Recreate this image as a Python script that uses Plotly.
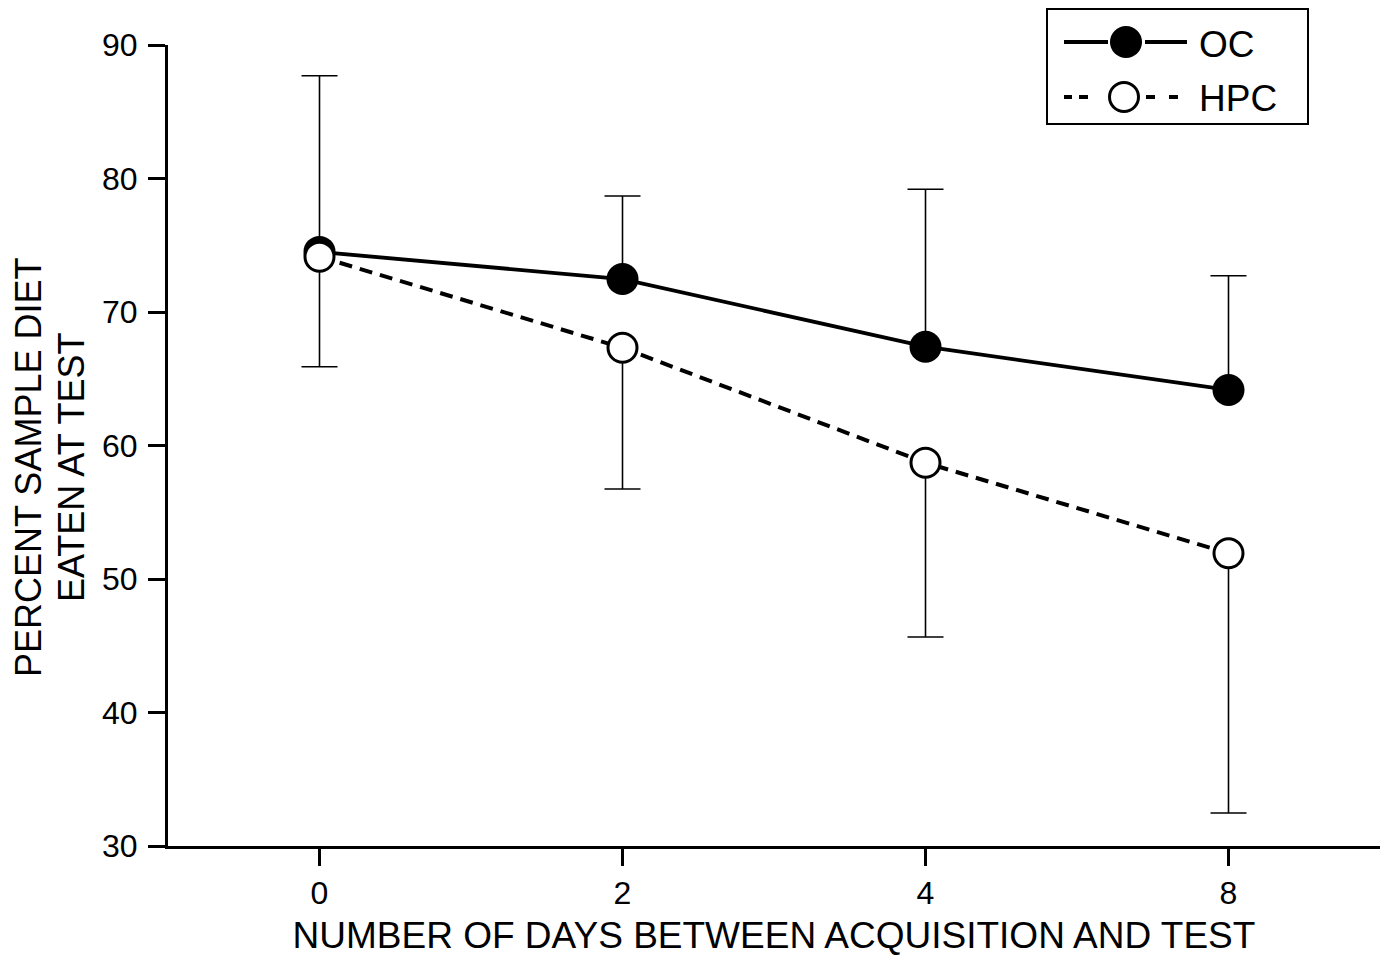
import plotly.graph_objects as go

# ---- data ----
days = ["0", "2", "4", "8"]
oc_mean = [74.5, 72.47, 67.4, 64.16]
oc_err_up = [13.2, 6.22, 11.79, 8.56]
hpc_mean = [74.14, 67.32, 58.71, 51.93]
hpc_err_down = [8.24, 10.58, 13.05, 19.46]

W, H = 1385, 964
L, R, T, B = 168, 5, 45, 118
PW, PH = W - L - R, H - T - B
FONT = "Liberation Sans, Arial, Helvetica, sans-serif"
CAP_HALF = 18 / (PW / 4.0)  # cap half-width in x data units (18 px)


def px2x(px):
    return (px - L) / PW


def px2y(py):
    return (H - B - py) / PH


xpos = list(range(len(days)))


def err_path(means, errs, sign):
    xs, ys = [], []
    for i, (m, e) in enumerate(zip(means, errs)):
        end = m + sign * e
        xs += [i, i, None, i - CAP_HALF, i + CAP_HALF, None]
        ys += [m, end, None, end, end, None]
    return xs, ys


fig = go.Figure()
ex, ey = err_path(oc_mean, oc_err_up, +1)
fig.add_trace(go.Scatter(x=ex, y=ey, mode="lines", hoverinfo="skip",
                         line=dict(color="black", width=1.6), showlegend=False))
ex, ey = err_path(hpc_mean, hpc_err_down, -1)
fig.add_trace(go.Scatter(x=ex, y=ey, mode="lines", hoverinfo="skip",
                         line=dict(color="black", width=1.6), showlegend=False))

fig.add_trace(go.Scatter(
    x=xpos, y=oc_mean, mode="lines+markers", name="OC",
    line=dict(color="black", width=3.8),
    marker=dict(symbol="circle", size=32, color="black", line=dict(width=0)),
    showlegend=False,
))
fig.add_trace(go.Scatter(
    x=xpos, y=hpc_mean, mode="lines+markers", name="HPC",
    line=dict(color="black", width=4, dash="13px,8px"),
    marker=dict(symbol="circle", size=29, color="white",
                line=dict(width=3, color="black")),
    showlegend=False,
))

axis_common = dict(
    showline=True, linecolor="black", linewidth=3,
    ticks="outside", ticklen=17, tickwidth=3, tickcolor="black",
    showgrid=False, zeroline=False,
    tickfont=dict(family=FONT, size=32, color="black"),
)

fig.update_xaxes(
    range=[-0.5, 3.5], tickvals=xpos, ticktext=days,
    title=dict(text="NUMBER OF DAYS BETWEEN ACQUISITION AND TEST",
               font=dict(family=FONT, size=37, color="black"), standoff=12),
    **axis_common,
)
fig.update_yaxes(range=[30, 90], tickvals=[30, 40, 50, 60, 70, 80, 90],
                 ticklabelstandoff=4, **axis_common)

# y-axis title (two lines) as annotations
annotations = []
for line_text, cx in [("PERCENT SAMPLE DIET", 29), ("EATEN AT TEST", 72)]:
    annotations.append(dict(
        text=line_text, textangle=-90,
        xref="paper", yref="paper", x=px2x(cx), y=px2y(468),
        xanchor="center", yanchor="middle", showarrow=False,
        font=dict(family=FONT, size=36, color="black"),
    ))

# ---- custom legend ----
shapes = [dict(type="rect", xref="paper", yref="paper",
               x0=px2x(1047), x1=px2x(1308), y0=px2y(124), y1=px2y(9),
               line=dict(color="black", width=2), fillcolor="rgba(0,0,0,0)")]
# OC row
for a, b in [(1064, 1108), (1145, 1187)]:
    shapes.append(dict(type="line", xref="paper", yref="paper",
                       x0=px2x(a), x1=px2x(b), y0=px2y(42), y1=px2y(42),
                       line=dict(color="black", width=3.8)))
shapes.append(dict(type="circle", xref="paper", yref="paper",
                   xsizemode="pixel", ysizemode="pixel",
                   xanchor=px2x(1126), yanchor=px2y(42),
                   x0=-16, x1=16, y0=-16, y1=16,
                   fillcolor="black", line=dict(width=0)))
# HPC row
for a, b in [(1064, 1072), (1079, 1088), (1146, 1155), (1169, 1178)]:
    shapes.append(dict(type="line", xref="paper", yref="paper",
                       x0=px2x(a), x1=px2x(b), y0=px2y(97), y1=px2y(97),
                       line=dict(color="black", width=4)))
shapes.append(dict(type="circle", xref="paper", yref="paper",
                   xsizemode="pixel", ysizemode="pixel",
                   xanchor=px2x(1124), yanchor=px2y(97),
                   x0=-14.5, x1=14.5, y0=-14.5, y1=14.5,
                   fillcolor="white", line=dict(color="black", width=3)))

for label, yy in [("OC", 44), ("HPC", 98)]:
    annotations.append(dict(
        text=label, xref="paper", yref="paper", x=px2x(1197), y=px2y(yy),
        xanchor="left", yanchor="middle", showarrow=False,
        font=dict(family=FONT, size=37, color="black"),
    ))

fig.update_layout(
    width=W, height=H,
    margin=dict(l=L, r=R, t=T, b=B, pad=0),
    plot_bgcolor="white", paper_bgcolor="white",
    font=dict(family=FONT, color="black"),
    shapes=shapes, annotations=annotations,
    showlegend=False,
)

fig.write_html(
    "out.html",
    config={"displayModeBar": False},
    post_script="document.body.style.margin='0';"
                "document.body.style.overflow='hidden';",
)
